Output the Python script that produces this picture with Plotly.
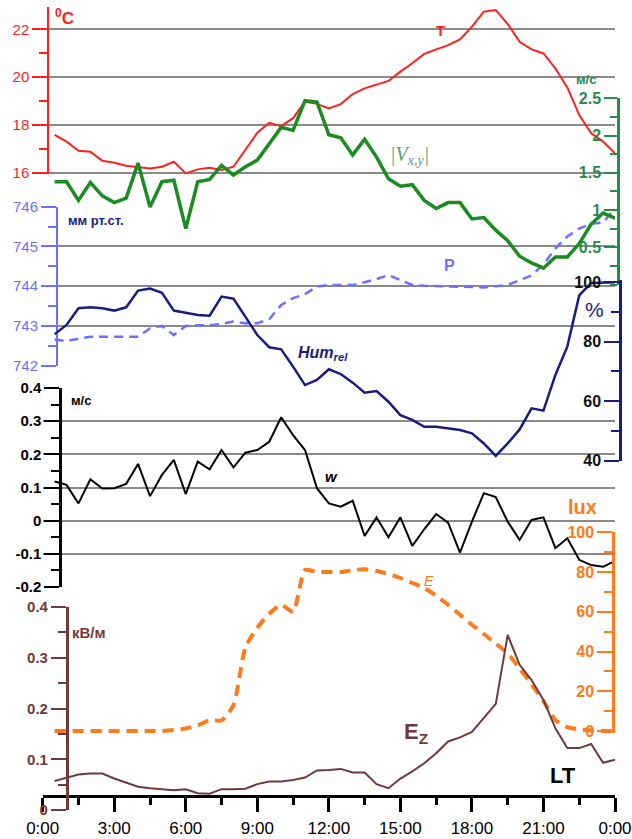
import plotly.graph_objects as go

W, H = 632, 839

hours = [0.5, 1.0, 1.5, 2.0, 2.5, 3.0, 3.5, 4.0, 4.5, 5.0, 5.5, 6.0,
         6.5, 7.0, 7.5, 8.0, 8.5, 9.0, 9.5, 10.0, 10.5, 11.0, 11.5, 12.0,
         12.5, 13.0, 13.5, 14.0, 14.5, 15.0, 15.5, 16.0, 16.5, 17.0, 17.5, 18.0,
         18.5, 19.0, 19.5, 20.0, 20.5, 21.0, 21.5, 22.0, 22.5, 23.0, 23.5, 24.0]

temp_c = [17.58, 17.30, 16.92, 16.88, 16.50, 16.42, 16.29, 16.22, 16.18, 16.25, 16.46, 15.97,
          16.14, 16.21, 16.11, 16.25, 16.95, 17.67, 18.09, 17.95, 18.28, 18.97, 18.88, 18.69,
          18.87, 19.29, 19.53, 19.67, 19.84, 20.23, 20.58, 20.97, 21.16, 21.34, 21.58, 22.11,
          22.74, 22.81, 22.22, 21.48, 21.16, 20.99, 20.36, 19.57, 18.41, 17.65, 17.30, 16.81]

vxy = [1.38, 1.38, 1.13, 1.37, 1.19, 1.10, 1.16, 1.63, 1.04, 1.38, 1.40, 0.75,
       1.38, 1.41, 1.60, 1.47, 1.58, 1.67, 1.89, 2.11, 2.07, 2.47, 2.45, 2.01,
       1.97, 1.74, 1.95, 1.71, 1.42, 1.32, 1.34, 1.13, 1.02, 1.10, 1.10, 0.88,
       0.90, 0.73, 0.59, 0.38, 0.29, 0.22, 0.37, 0.37, 0.55, 0.81, 0.96, 0.89]

pressure = [742.66, 742.62, 742.68, 742.73, 742.73, 742.73, 742.73, 742.73, 742.94, 743.00, 742.77, 743.00,
            743.02, 743.02, 743.05, 743.11, 743.07, 743.07, 743.17, 743.53, 743.70, 743.80, 743.99, 744.03,
            744.03, 744.03, 744.10, 744.18, 744.28, 744.15, 744.03, 744.01, 744.00, 743.99, 743.98, 743.97,
            743.97, 744.00, 744.03, 744.15, 744.27, 744.55, 744.95, 745.25, 745.45, 745.57, 745.60, 745.96]

hum_rel = [82.5, 85.6, 91.2, 91.5, 91.2, 90.4, 91.5, 97.1, 97.8, 96.4, 90.4, 89.7,
           88.9, 88.7, 95.1, 94.4, 88.4, 82.2, 78.1, 77.4, 71.6, 65.4, 67.1, 70.7,
           69.1, 66.2, 62.8, 63.4, 59.8, 55.3, 53.7, 51.4, 51.4, 50.9, 50.3, 49.2,
           45.8, 41.6, 45.8, 50.5, 57.6, 56.8, 68.8, 78.3, 95.5, 99.7, 99.9, 99.9]

w_vert = [0.118, 0.108, 0.052, 0.125, 0.097, 0.098, 0.111, 0.171, 0.074, 0.138, 0.183, 0.080,
          0.178, 0.155, 0.213, 0.161, 0.205, 0.213, 0.238, 0.312, 0.258, 0.213, 0.098, 0.052,
          0.042, 0.060, -0.046, 0.010, -0.050, 0.010, -0.076, -0.026, 0.020, -0.006, -0.096, -0.003,
          0.083, 0.071, -0.003, -0.058, 0.002, 0.010, -0.083, -0.053, -0.118, -0.134, -0.139, -0.121]

lux = [0, 0, 0, 0, 0, 0, 0, 0, 0, 0, 0.5, 1.3,
       2.8, 5.5, 5.3, 13.0, 42.0, 52.0, 59.0, 63.5, 60.0, 81.0, 80.0, 80.0,
       80.0, 81.0, 81.4, 80.5, 79.0, 77.0, 74.5, 72.0, 68.0, 63.5, 58.5, 53.5,
       48.8, 44.0, 39.0, 31.5, 23.5, 15.0, 5.5, 2.0, 0.8, 0.3, 0, 0]

ez = [0.057, 0.064, 0.070, 0.072, 0.072, 0.062, 0.054, 0.046, 0.043, 0.041, 0.039, 0.041,
      0.033, 0.032, 0.041, 0.041, 0.042, 0.051, 0.056, 0.056, 0.059, 0.064, 0.078, 0.079,
      0.081, 0.074, 0.074, 0.051, 0.043, 0.062, 0.076, 0.092, 0.112, 0.135, 0.143, 0.154,
      0.181, 0.209, 0.345, 0.286, 0.256, 0.217, 0.161, 0.122, 0.122, 0.130, 0.093, 0.099]

x_ticks = [0, 3, 6, 9, 12, 15, 18, 21, 24]
x_labels = ["0:00", "3:00", "6:00", "9:00", "12:00", "15:00", "18:00", "21:00", "0:00"]
w_ticks = [-0.2, -0.1, 0, 0.1, 0.2, 0.3, 0.4]
w_labels = ["-0.2", "-0.1", "0", "0.1", "0.2", "0.3", "0.4"]
v_ticks = [0.5, 1, 1.5, 2, 2.5]
v_labels = ["0.5", "1", "1.5", "2", "2.5"]

RED = "#ff1f1f"
GREEN = "#1b8c22"
GREEN_AX = "#2a8a4a"
PERI = "#6f6fff"
NAVY = "#1c1c80"
ORANGE = "#ff7a1a"
BROWN = "#6e3a3e"
GRID = "#8a8a8a"
FONT = "Liberation Sans, Arial, sans-serif"


def px(x):
    return x / W


def py(y):
    return 1 - y / H


def dom(v0, p0, v1, p1, lo, hi):
    s = (p1 - p0) / (v1 - v0)
    plo = p0 + (lo - v0) * s
    phi = p0 + (hi - v0) * s
    return [py(plo), py(phi)]


fig = go.Figure()

fig.add_trace(go.Scatter(x=hours, y=temp_c, xaxis="x", yaxis="y", mode="lines",
                         line=dict(color=RED, width=2)))
fig.add_trace(go.Scatter(x=hours, y=pressure, xaxis="x", yaxis="y2", mode="lines",
                         line=dict(color=PERI, width=2.5, dash="9px,6px")))
fig.add_trace(go.Scatter(x=hours, y=w_vert, xaxis="x", yaxis="y3", mode="lines",
                         line=dict(color="black", width=2)))
fig.add_trace(go.Scatter(x=hours, y=vxy, xaxis="x", yaxis="y4", mode="lines",
                         line=dict(color=GREEN, width=3.5)))
fig.add_trace(go.Scatter(x=hours, y=hum_rel, xaxis="x", yaxis="y5", mode="lines",
                         line=dict(color=NAVY, width=2.5)))
fig.add_trace(go.Scatter(x=hours, y=lux, xaxis="x", yaxis="y6", mode="lines",
                         line=dict(color=ORANGE, width=4, dash="11px,7px", shape="spline", smoothing=0.6)))
fig.add_trace(go.Scatter(x=hours, y=ez, xaxis="x", yaxis="y7", mode="lines",
                         line=dict(color=BROWN, width=2)))


def yax(domain, rng, pos, color, tickvals=None, ticktext=None, dtick=None, mdtick=None,
        grid=False, bold=False, size=15, tcolor=None, lw=2, tl=15, mtl=8):
    d = dict(domain=domain, range=rng, anchor="free", position=pos, side="left",
             automargin=False,
             showline=True, linecolor=color, linewidth=lw, ticks="outside",
             ticklen=tl, tickwidth=2, tickcolor=color, zeroline=False,
             showgrid=grid, gridcolor=GRID, gridwidth=1.5,
             tickfont=dict(family=FONT, size=size, color=tcolor or color,
                           weight="bold" if bold else "normal"),
             minor=dict(dtick=mdtick, ticks="outside", ticklen=mtl, tickwidth=2,
                        tickcolor=color, showgrid=False),
             fixedrange=True)
    if tickvals is not None:
        d["tickmode"] = "array"
        d["tickvals"] = tickvals
        d["ticktext"] = ticktext
    else:
        d["tickmode"] = "linear"
        d["tick0"] = 0
        d["dtick"] = dtick
    return d


fig.update_layout(
    width=W, height=H,
    margin=dict(l=0, r=0, t=0, b=0, pad=0, autoexpand=False),
    paper_bgcolor="white", plot_bgcolor="rgba(0,0,0,0)",
    showlegend=False,
    font=dict(family=FONT),
    xaxis=dict(domain=[px(42.7), px(615)], range=[0, 24], anchor="free", position=py(796),
               automargin=False,
               showline=True, linecolor="black", linewidth=2.5, ticks="outside",
               ticklen=14, tickwidth=2.5, tickcolor="black",
               tickmode="array", tickvals=x_ticks, ticktext=x_labels,
               tickfont=dict(family=FONT, size=17, color="black"),
               ticklabelstandoff=2,
               minor=dict(dtick=1.5, ticks="outside", ticklen=7, tickwidth=2.5, tickcolor="black"),
               showgrid=False, zeroline=False, fixedrange=True),
    yaxis=yax(dom(16, 172.7, 22, 29.3, 15.93, 22.95), [15.93, 22.95], px(48.3), RED,
              dtick=2, mdtick=1, grid=True, size=15),
    yaxis2=yax(dom(742, 365.7, 746, 206.7, 742, 746), [742, 746], px(57), PERI,
               dtick=1, mdtick=0.5, grid=True, size=15),
    yaxis3=yax(dom(-0.2, 587, 0.4, 388, -0.2, 0.4), [-0.2, 0.4], px(60), "black",
               tickvals=w_ticks, ticktext=w_labels, mdtick=0.05, grid=True, bold=True, size=15, lw=2.5),
    yaxis4=yax(dom(0.5, 247.3, 2.5, 98.3, 0, 2.5), [0, 2.5], px(618.3), GREEN_AX,
               tickvals=v_ticks, ticktext=v_labels, mdtick=0.25, bold=True, size=16, lw=3, tl=13, mtl=7),
    yaxis5=yax(dom(40, 460.7, 100, 282, 40, 100.6), [40, 100.6], px(620), NAVY,
               dtick=20, mdtick=10, bold=True, size=16, tcolor="#111111", lw=2.5, tl=15, mtl=8),
    yaxis6=yax(dom(0, 731, 100, 532.3, -1, 100), [-1, 100], px(613.3), ORANGE,
               dtick=20, mdtick=10, bold=True, size=16, lw=3, tl=15, mtl=8),
    yaxis7=yax(dom(0, 810, 0.4, 607, 0, 0.4), [0, 0.4], px(66.7), BROWN,
               dtick=0.1, mdtick=0.05, bold=True, size=15, lw=2.5, tl=15, mtl=8),
)


def ann(text, x, y, color, size, bold=False, italic=False, family=FONT):
    fig.add_annotation(text=text, x=px(x), y=py(y), xref="paper", yref="paper",
                       xanchor="center", yanchor="middle", showarrow=False,
                       font=dict(family=family, size=size, color=color,
                                 weight="bold" if bold else "normal",
                                 style="italic" if italic else "normal"))


ann("<sup>0</sup>C", 64, 17, RED, 17, bold=True)
ann("T", 440, 31, RED, 15, bold=True)
ann("|V<sub>x,y</sub>|", 409, 156, "#5a9e72", 20, italic=True, family="Liberation Serif, DejaVu Serif, serif")
ann("м/с", 586, 79, GREEN_AX, 13, bold=True)
ann("мм рт.ст.", 96, 220, NAVY, 13, bold=True)
ann("P", 449, 265, PERI, 16, bold=True)
ann("%", 594, 310, NAVY, 21)
ann("Hum<sub>rel</sub>", 323, 353, NAVY, 16, bold=True, italic=True)
ann("м/с", 81, 401, "black", 13, bold=True)
ann("w", 331, 476, "black", 15, bold=True, italic=True)
ann("lux", 582, 507, ORANGE, 20, bold=True)
ann("E", 429, 581, ORANGE, 14, italic=True)
ann("кВ/м", 89, 632, BROWN, 15, bold=True)
ann("E<sub>Z</sub>", 416, 733, BROWN, 22, bold=True)
ann("LT", 563, 775, "black", 22, bold=True)

fig.write_html("out.html", config={"displayModeBar": False},
               post_script="document.body.style.margin='0px';document.body.style.padding='0px';"
                           "document.documentElement.style.overflow='hidden';")
